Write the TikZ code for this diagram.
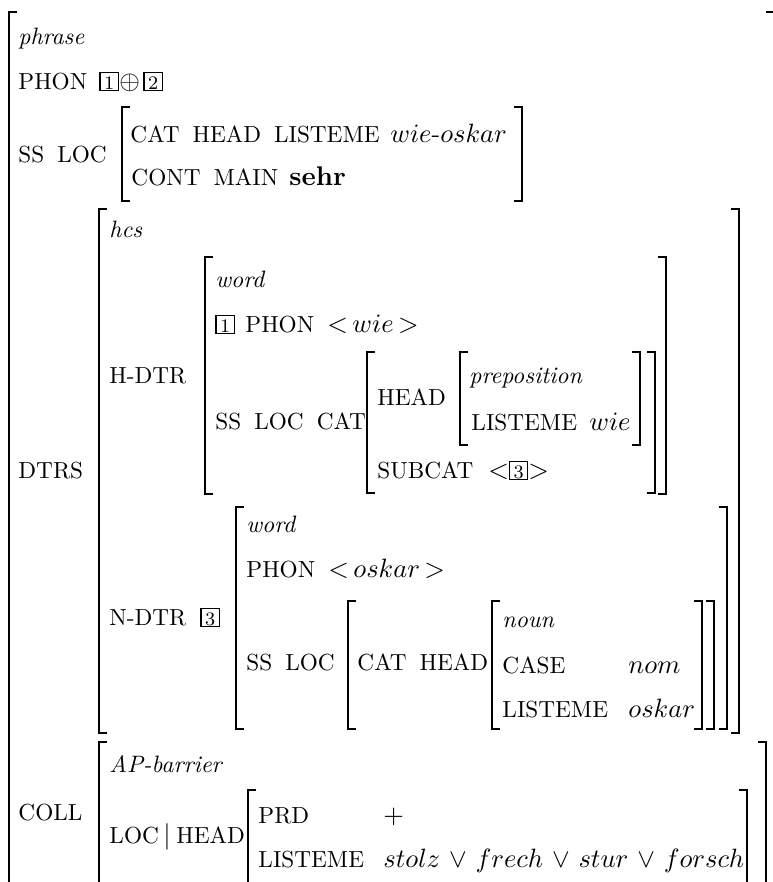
\RequirePackage{fix-cm}
\documentclass[tikz,border=0pt]{standalone}
\newcommand\tagbox[1]{{\setlength\fboxsep{0pt}\setlength\fboxrule{0.45pt}\fbox{\makebox[7.4pt]{\rule[-0.5pt]{0pt}{7.2pt}\fontsize{8.2}{9}\selectfont #1}}}}
\newcommand\LB[3]{\draw[brk] ({#1+8},#2) -- (#1,#2) -- (#1,#3) -- ({#1+8},#3);}
\newcommand\RB[3]{\draw[brk] ({#1-8},#2) -- (#1,#2) -- (#1,#3) -- ({#1-8},#3);}
\newcommand\featfont{\fontsize{10}{12}\selectfont\spaceskip 5.6pt\relax}
\newcommand\italfont{\fontsize{10.2}{12}\selectfont\itshape}
\newcommand\mthfont{\fontsize{11.4}{13}\selectfont}
\newcommand\bldfont{\fontsize{10}{12}\selectfont\bfseries}
\tikzset{
  brk/.style={line width=0.65pt, line join=miter},
  feat/.style={anchor=base west, inner sep=0pt, font=\featfont},
  ital/.style={anchor=base west, inner sep=0pt, font=\italfont},
  mth/.style={anchor=base west, inner sep=0pt, font=\mthfont},
  bld/.style={anchor=base west, inner sep=0pt, font=\bldfont},
  plain/.style={anchor=base west, inner sep=0pt, font=\fontsize{10}{12}\selectfont}
}
\begin{document}
\begin{tikzpicture}[x=0.43pt, y=-0.43pt]
\useasboundingbox (0,0) rectangle (773,882);
% outer AVM
\LB{9}{12}{900}
\draw[brk] (766,12) -- (774,12) -- (774,900);
\node[ital] (phrase) at (18,44) {phrase};
\node[feat] (phon) at (18,89) {PHON};
\node[plain] (t1) at (99,89) {\tagbox{1}};
\node[mth] (oplus) at (119,89) {$\oplus$};
\node[plain] (t2) at (143,89) {\tagbox{2}};
% SS LOC
\node[feat] (ssloc) at (18,162) {SS LOC};
\LB{122}{107}{201}
\RB{522}{107}{201}
\node[feat] (cathl) at (130,142) {CAT HEAD LISTEME};
\node[mth] (wieoskar) at (390,142) {$wie$\mbox{-}$oskar$};
\node[feat] (contmain) at (131,185) {CONT MAIN};
\node[bld] (sehr) at (289,185) {\scalebox{1.16}{sehr}};
% DTRS
\node[feat] (dtrs) at (18,478) {DTRS};
\LB{99}{209}{733}
\RB{739}{209}{733}
\node[ital] (hcs) at (109,237) {hcs};
\node[feat] (hdtr) at (109,383) {H-DTR};
\LB{205}{257}{494}
\RB{666}{257}{494}
\node[ital] (word1) at (215,287) {word};
\node[plain] (t1b) at (215,332) {\tagbox{1}};
\node[feat] (phon1) at (245,332) {PHON};
\node[mth] (wie) at (327,332) {${<}\,wie\,{>}$};
\node[feat] (sslc) at (215,429) {SS LOC CAT};
\LB{367}{352}{493}
\RB{655}{352}{493}
\node[feat] (head1) at (377,405) {HEAD};
\LB{460}{352}{445}
\RB{640}{352}{445}
\node[ital] (prep) at (469,383) {preposition};
\node[feat] (list1) at (471,430) {LISTEME};
\node[mth] (wie2) at (589,430) {$wie$};
\node[feat] (subcat) at (377,478) {SUBCAT};
\node[mth] (sc) at (488,478) {${<}$\tagbox{3}${>}$};
% N-DTR
\node[feat] (ndtr) at (109,625) {N-DTR};
\node[plain] (t3) at (200,625) {\tagbox{3}};
\LB{236}{507}{729}
\RB{727}{507}{729}
\node[ital] (word2) at (246,532) {word};
\node[feat] (phon2) at (246,577) {PHON};
\node[mth] (osk) at (328,577) {${<}\,oskar\,{>}$};
\node[feat] (ssloc2) at (246,670) {SS LOC};
\LB{348}{601}{729}
\RB{714}{601}{729}
\node[feat] (cathead) at (357,670) {CAT HEAD};
\LB{492}{601}{729}
\RB{702}{601}{729}
\node[ital] (noun) at (502,627) {noun};
\node[feat] (case) at (502,673) {CASE};
\node[mth] (nom) at (628,673) {$nom$};
\node[feat] (list2) at (502,717) {LISTEME};
\node[mth] (oskar) at (628,717) {$oskar$};
% COLL
\node[feat] (coll) at (18,820) {COLL};
\LB{99}{742}{900}
\RB{766}{742}{900}
\node[ital] (apb) at (109,772) {AP-barrier};
\node[feat] (loc) at (109,843) {LOC};
\node[mth] (bar) at (163,843) {$|$};
\node[feat] (head3) at (176,843) {HEAD};
\LB{248}{790}{900}
\RB{747}{790}{900}
\node[feat] (prd) at (258,823) {PRD};
\node[mth] (plus) at (383,823) {$+$};
\node[feat] (list3) at (258,867) {LISTEME};
\node[mth] (stolz) at (383,867) {\medmuskip=6mu $stolz \vee frech \vee stur \vee forsch$};
\end{tikzpicture}
\end{document}
